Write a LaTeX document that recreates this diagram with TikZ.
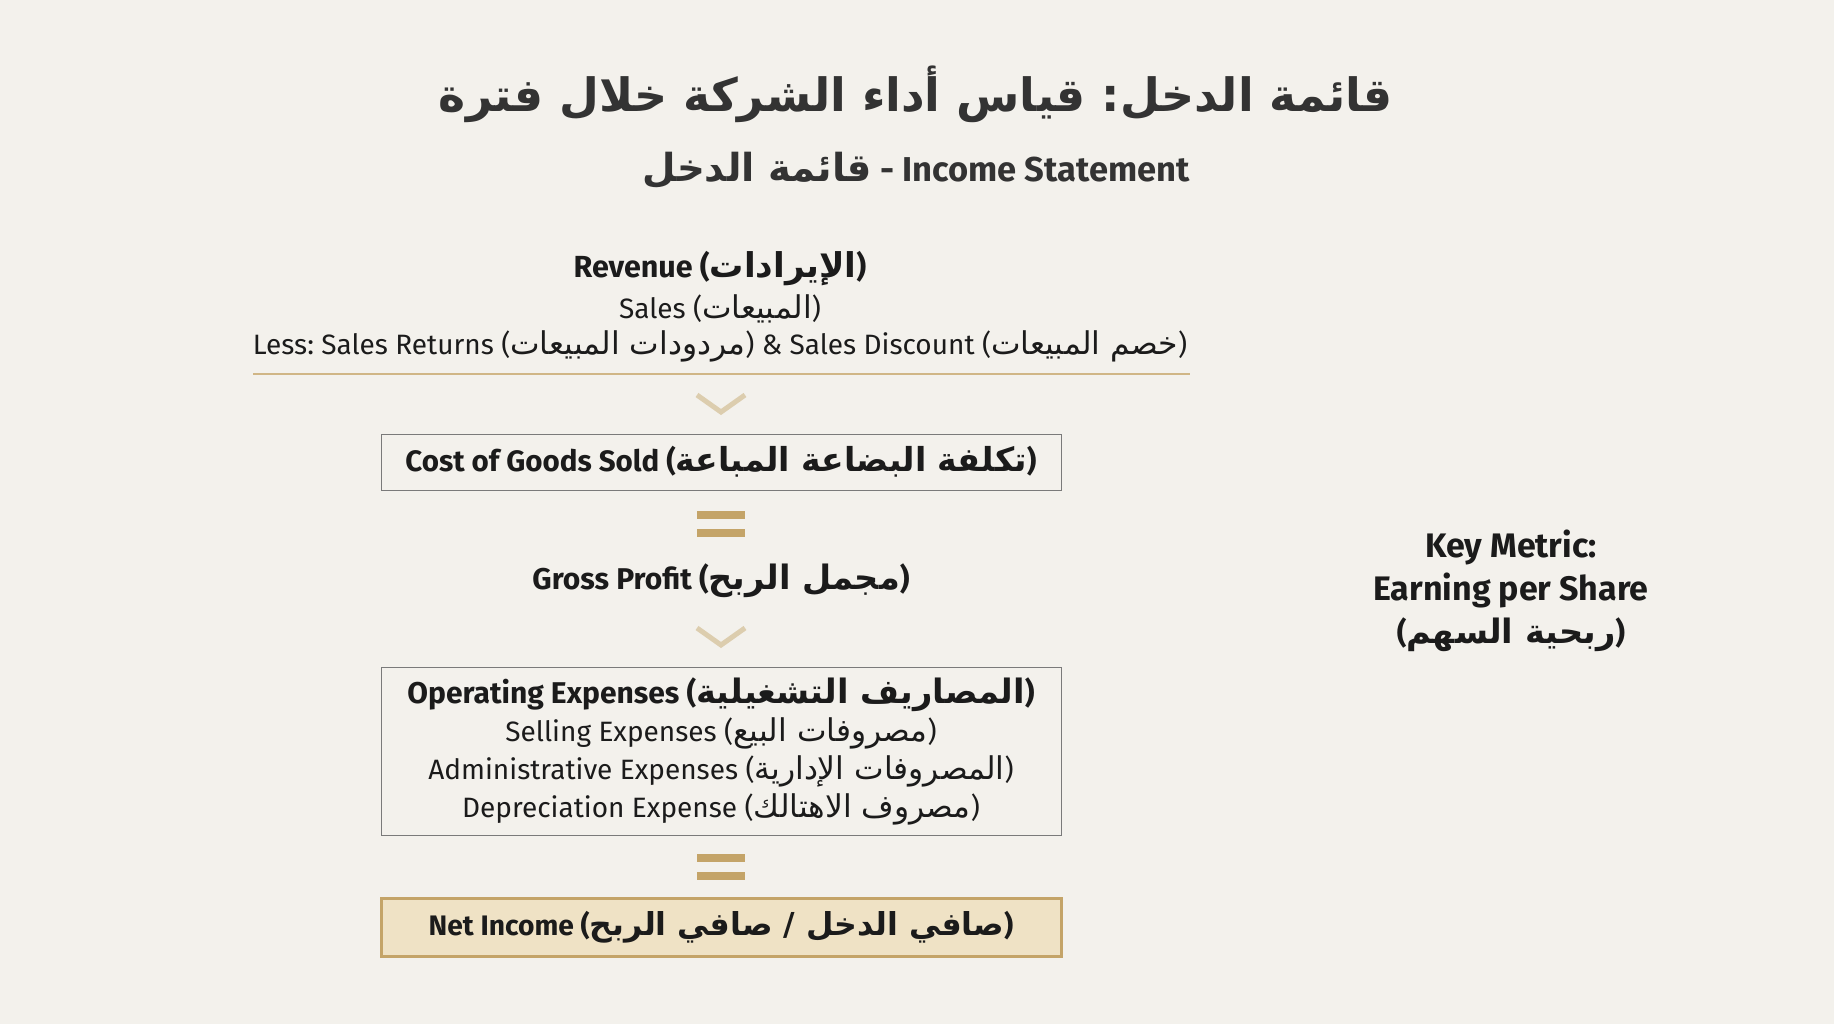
\documentclass[tikz,border=0pt]{standalone}
\usepackage{fontspec}
\setmainfont{Fira Sans}
\newfontfamily\arabicfont[Script=Arabic,Scale=1.12]{DejaVu Sans}
\TeXXeTstate=1
\frenchspacing
\newcommand{\arab}[1]{{\arabicfont\beginR #1\endR}}
\newcommand{\fsz}[2]{\fontsize{#1}{#2}\selectfont}
\definecolor{paper}{HTML}{F3F1EC}
\definecolor{ink}{HTML}{1B1B1B}
\definecolor{titleink}{HTML}{333333}
\definecolor{boxline}{HTML}{7A7A7A}
\definecolor{gold}{HTML}{C4A468}
\definecolor{chevgold}{HTML}{DCCDAE}
\definecolor{netfill}{HTML}{EFE2C5}

\begin{document}
\begin{tikzpicture}
	[x=1pt,y=-1pt,
	every node/.style={inner sep=0pt,text=ink,align=center},
	flowbox/.style={draw=boxline,line width=1pt,minimum width=680pt},
	chevron/.style={draw=chevgold,line width=5pt},
	eqbar/.style={fill=gold}]
	\fill[paper] (0,0) rectangle (1834,1024);
	% heading
	\node[text=titleink,font=\fsz{41}{50}\bfseries] (title) at (916,94) {\arab{قائمة الدخل: قياس أداء الشركة خلال فترة}};
	\node[text=titleink,font=\fsz{34.5}{40}\bfseries] (subtitle) at (916,170) {\arab{قائمة الدخل} - Income Statement};
	% revenue
	\node[font=\fsz{30.5}{32}\bfseries] (rev) at (720,269) {Revenue (\arab{الإيرادات})};
	\node[font=\fsz{28}{30}] (sales) at (720,309) {Sales (\arab{المبيعات})};
	\node[font=\fsz{28}{30}] (less) at (720,346) {Less: Sales Returns (\arab{مردودات المبيعات}) \& Sales Discount (\arab{خصم المبيعات})};
	\draw[gold!80,line width=1.5pt] (253,374) -- (1190,374);
	\draw[chevron] (697,395) -- (721,412) -- (745,395);
	% cost of goods sold
	\node[flowbox,minimum height=56pt,font=\fsz{29.5}{32}\bfseries] (cogs) at (721,462) {Cost of Goods Sold (\arab{تكلفة البضاعة المباعة})};
	\fill[eqbar] (697,511) rectangle (745,519);
	\fill[eqbar] (697,529) rectangle (745,537);
	\node[font=\fsz{30}{32}\bfseries] (gross) at (721,581) {Gross Profit (\arab{مجمل الربح})};
	\draw[chevron] (697,628) -- (721,645) -- (745,628);
	% operating expenses
	\node[flowbox,minimum height=168pt,font=\fsz{28}{38}] (opex) at (721,751)
		{{\fsz{30}{38}\bfseries Operating Expenses (\arab{المصاريف التشغيلية})}\\
		Selling Expenses (\arab{مصروفات البيع})\\
		Administrative Expenses (\arab{المصروفات الإدارية})\\
		Depreciation Expense (\arab{مصروف الاهتالك})};
	\fill[eqbar] (697,854) rectangle (745,862);
	\fill[eqbar] (697,872) rectangle (745,880);
	% net income
	\node[flowbox,draw=gold,fill=netfill,line width=3pt,minimum height=58pt,font=\fsz{28.2}{32}\bfseries] (net) at (721,927) {Net Income (\arab{صافي الدخل / صافي الربح})};
	% key metric
	\node[font=\fsz{34}{43}\bfseries] (eps) at (1511,591) {Key Metric:\\Earning per Share\\{\fsz{30}{43}\bfseries(\arab{ربحية السهم})}};
\end{tikzpicture}
\end{document}
